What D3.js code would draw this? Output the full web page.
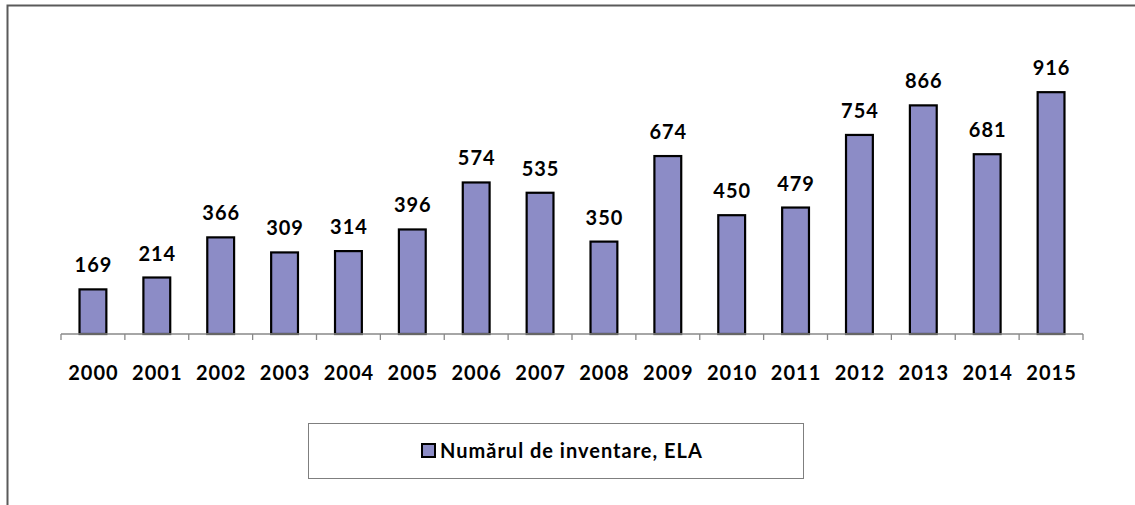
<!DOCTYPE html>
<html><head><meta charset="utf-8">
<script src="https://cdn.jsdelivr.net/npm/d3@7"></script>
<style>body{margin:0;background:#fff}svg{display:block}text{font-family:Lato,"Open Sans",sans-serif;font-weight:bold;fill:#000;letter-spacing:1px}</style>
</head><body>
<script>
const years = ["2000","2001","2002","2003","2004","2005","2006","2007","2008","2009","2010","2011","2012","2013","2014","2015"];
const values = [169,214,366,309,314,396,574,535,350,674,450,479,754,866,681,916];
const seriesName = "Numărul de inventare, ELA";

const W = 1135, H = 505;
const svg = d3.select("body").append("svg").attr("width", W).attr("height", H);

// outer frame (top and left visible)
svg.append("path").attr("d", `M7.5,${H} L7.5,5.5 L${W},5.5`).attr("fill","none").attr("stroke","#5a5a5a").attr("stroke-width",2);

const x = d3.scaleBand().domain(years).range([61, 1083]).paddingInner(0.58).paddingOuter(0.29);
const y = d3.scaleLinear().domain([0, 1000]).range([334, 70]);

const g = svg.append("g");
g.selectAll("rect.bar").data(values).enter().append("rect")
  .attr("x", (d,i) => x(years[i]))
  .attr("y", d => y(d))
  .attr("width", x.bandwidth())
  .attr("height", d => y(0) - y(d))
  .attr("fill", "#8c8cc6").attr("stroke", "#000").attr("stroke-width", 2.2);

g.selectAll("text.val").data(values).enter().append("text")
  .attr("x", (d,i) => x(years[i]) + x.bandwidth()/2 + 0.5)
  .attr("y", d => y(d) - 17)
  .attr("text-anchor","middle").style("font-size","20px")
  .text(d => d);

// x axis
const xa = d3.axisBottom(x).tickSize(0).tickFormat(d => d);
const axisG = svg.append("g").attr("transform", "translate(0,334)").call(xa);
axisG.select(".domain").attr("stroke","#888").attr("stroke-width",1.3).attr("d","M61,0H1083");
axisG.selectAll(".tick text").attr("dy", null).attr("y", 46).attr("x", 0.5)
  .style("font-size","20px").style("font-family","Lato,'Open Sans',sans-serif").style("font-weight","bold").attr("fill","#000");
// tick marks at band boundaries
const bounds = years.map(d => x(d) - x.step()*x.paddingInner()/2);
bounds.push(1083);
axisG.selectAll("line.bt").data(bounds).enter().append("line").attr("class","bt")
  .attr("x1", d => d).attr("x2", d => d).attr("y1", 0).attr("y2", 6)
  .attr("stroke","#888").attr("stroke-width",1.3);

// legend
const lg = svg.append("g");
lg.append("rect").attr("x",308.5).attr("y",423.5).attr("width",495).attr("height",55)
  .attr("fill","#fff").attr("stroke","#7f7f7f").attr("stroke-width",1);
lg.append("rect").attr("x",422).attr("y",444).attr("width",13).attr("height",13)
  .attr("fill","#8c8cc6").attr("stroke","#000").attr("stroke-width",2);
lg.append("text").attr("x",440).attr("y",458).style("font-size","20px").text(seriesName);
</script>
</body></html>
